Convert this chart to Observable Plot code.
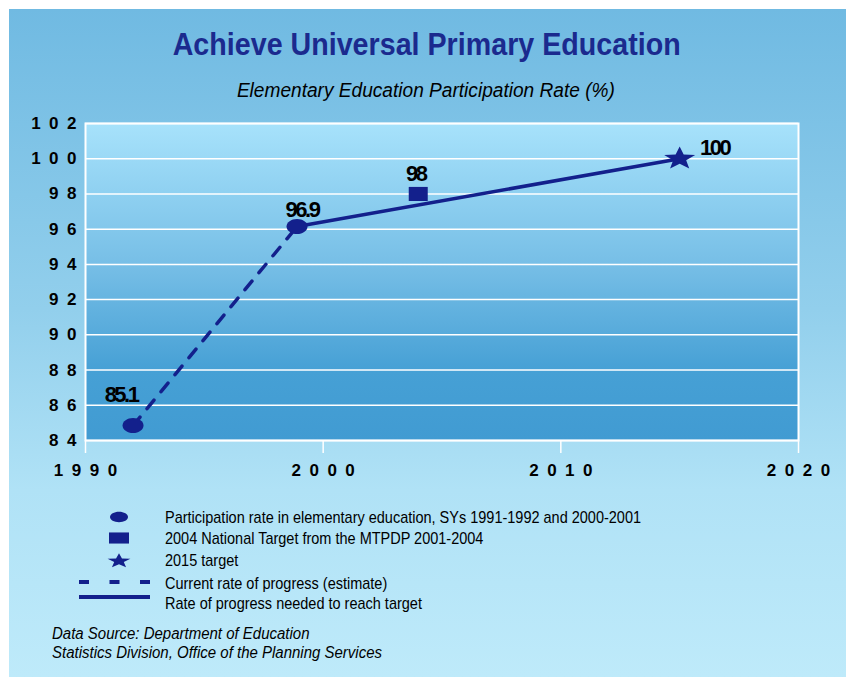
<!DOCTYPE html>
<html>
<head>
<meta charset="utf-8">
<script src="https://cdn.jsdelivr.net/npm/d3@7"></script>
<script src="https://cdn.jsdelivr.net/npm/@observablehq/plot@0.6"></script>
<style>
  html, body { margin: 0; padding: 0; background: #fff; }
  #wrap { position: relative; width: 846px; height: 677px; overflow: hidden; font-family: "Liberation Sans", Arial, sans-serif; }
  #panel { position: absolute; left: 9px; top: 9px; right: 0; bottom: 0;
    background: linear-gradient(to bottom, rgb(112,186,226) 0%, rgb(146,207,236) 45%, rgb(176,226,246) 72%, rgb(190,234,250) 100%); }
  #chart { position: absolute; left: 0; top: 0; }
  .t { position: absolute; white-space: nowrap; line-height: 1; }
  .t span { display: inline-block; }
  #title { left: 4px; width: 846px; text-align: center; top: 28px; font-size: 32px; font-weight: bold; color: #1b2a8e; }
  #subtitle { left: 3px; width: 846px; text-align: center; top: 80px; font-size: 20px; font-style: italic; color: #000; }
  .leg { left: 165px; font-size: 17px; color: #000; }
  .foot { left: 52px; font-size: 16px; font-style: italic; color: #000; }
  #legsym { position: absolute; left: 0; top: 0; }
</style>
</head>
<body>
<div id="wrap">
  <div id="panel"></div>
  <div id="chart"></div>
  <div class="t" id="title"><span></span></div>
  <div class="t" id="subtitle"><span></span></div>
  <div id="legend"></div>
  <div id="footer"></div>
</div>
<script>
// ---------------- data ----------------
const titleText = "Achieve Universal Primary Education";
const subtitleText = "Elementary Education Participation Rate (%)";
const xTicks = [1990, 2000, 2010, 2020];
const yTicks = [84, 86, 88, 90, 92, 94, 96, 98, 100, 102];

// participation rate (as plotted) and its printed labels
const rateYears = [1992, 1998.9];
const rateValues = [84.85, 96.15];
const rateLabels = ["85.1", "96.9"];

// 2004 national target
const targetYears = [2004];
const targetValues = [98];
const targetLabels = ["98"];

// 2015 target
const goalYears = [2015];
const goalValues = [100];
const goalLabels = ["100"];

const legendLabels = [
  "Participation rate in elementary education, SYs 1991-1992 and 2000-2001",
  "2004 National Target from the MTPDP 2001-2004",
  "2015 target",
  "Current rate of progress (estimate)",
  "Rate of progress needed to reach target"
];
const sourceLines = [
  "Data Source: Department of Education",
  "Statistics Division, Office of the Planning Services"
];

// ---------------- styling ----------------
const navy = "#13208c";
const labelOffsets = { r0: [-12, -24], r1: [5, -9.5], t0: [-2.4, -13.4], g0: [35, -4] };

const rateData = rateYears.map((x, i) => ({ x, y: rateValues[i], label: rateLabels[i] }));
const targetData = targetYears.map((x, i) => ({ x, y: targetValues[i], label: targetLabels[i] }));
const goalData = goalYears.map((x, i) => ({ x, y: goalValues[i], label: goalLabels[i] }));
const dashedData = rateData;
const solidData = [rateData[1], goalData[0]];

// custom symbols (squashed vertically like the original)
const K = 0.5523;
const ellipseSym = { draw(ctx, size) {
  const r = Math.sqrt(size / Math.PI), rx = r, ry = r * 0.72;
  ctx.moveTo(rx, 0);
  ctx.bezierCurveTo(rx, ry * K, rx * K, ry, 0, ry);
  ctx.bezierCurveTo(-rx * K, ry, -rx, ry * K, -rx, 0);
  ctx.bezierCurveTo(-rx, -ry * K, -rx * K, -ry, 0, -ry);
  ctx.bezierCurveTo(rx * K, -ry, rx, -ry * K, rx, 0);
  ctx.closePath();
}};
const rectSym = { draw(ctx, size) {
  const r = Math.sqrt(size / Math.PI), hw = r, hh = r * 0.74;
  ctx.moveTo(-hw, -hh); ctx.lineTo(hw, -hh); ctx.lineTo(hw, hh); ctx.lineTo(-hw, hh); ctx.closePath();
}};
const starSym = { draw(ctx, size) {
  const r = Math.sqrt(size / Math.PI), sx = r, sy = r * 0.75, inner = 0.42;
  for (let i = 0; i < 10; i++) {
    const a = -Math.PI / 2 + i * Math.PI / 5, rr = i % 2 === 0 ? 1 : inner;
    const px = Math.cos(a) * rr * sx, py = Math.sin(a) * rr * sy;
    if (i === 0) ctx.moveTo(px, py); else ctx.lineTo(px, py);
  }
  ctx.closePath();
}};

const spaced = d => String(d).split("").join("\u2002");

function labelMark(data, off) {
  return Plot.text(data, { x: "x", y: "y", text: "label", dx: off[0], dy: off[1],
    textAnchor: "middle", lineAnchor: "bottom", fontSize: 22, fontWeight: "bold", fill: "#000" });
}

const chart = Plot.plot({
  width: 846, height: 490,
  marginLeft: 85, marginRight: 48, marginTop: 123, marginBottom: 50,
  style: { background: "transparent", fontFamily: "'Liberation Sans', Arial, sans-serif", overflow: "visible" },
  x: { domain: [1990, 2020], label: null },
  y: { domain: [84, 102], label: null },
  marks: [
    Plot.frame({ fill: "url(#plotGrad)" }),
    Plot.gridY(yTicks, { stroke: "white", strokeOpacity: 1, strokeWidth: 1.5 }),
    Plot.frame({ stroke: "white", strokeWidth: 2 }),
    Plot.axisY(yTicks, { tickSize: 0, tickPadding: 9, tickFormat: spaced, fontSize: 17, fontWeight: "bold", fill: "#000" }),
    Plot.axisX(xTicks, { tickSize: 13, tickPadding: 10.5, tickFormat: spaced, fontSize: 17, fontWeight: "bold",
      fill: "#000", stroke: "white", strokeWidth: 1.5, strokeOpacity: 1 }),
    Plot.line(dashedData, { x: "x", y: "y", stroke: navy, strokeWidth: 3.5, strokeDasharray: "11,11" }),
    Plot.line(solidData, { x: "x", y: "y", stroke: navy, strokeWidth: 3.5 }),
    Plot.dot(rateData, { x: "x", y: "y", symbol: ellipseSym, r: 10.5, fill: navy, stroke: "none" }),
    Plot.dot(targetData, { x: "x", y: "y", symbol: rectSym, r: 9.5, fill: navy, stroke: "none" }),
    Plot.dot(goalData, { x: "x", y: "y", symbol: starSym, r: 16.3, fill: navy, stroke: "none" }),
    labelMark([rateData[0]], labelOffsets.r0),
    labelMark([rateData[1]], labelOffsets.r1),
    labelMark(targetData, labelOffsets.t0),
    labelMark(goalData, labelOffsets.g0)
  ]
});
document.getElementById("chart").appendChild(chart);

// gradient for the plotting area
const svg = d3.select(chart);
const grad = svg.insert("defs", ":first-child").append("linearGradient")
  .attr("id", "plotGrad").attr("x1", 0).attr("y1", 0).attr("x2", 0).attr("y2", 1);
[["0%", "rgb(167,226,251)"], ["45%", "rgb(118,190,230)"], ["78%", "rgb(70,160,213)"], ["100%", "rgb(65,155,210)"]]
  .forEach(([o, c]) => grad.append("stop").attr("offset", o).attr("stop-color", c));
svg.selectAll('g[aria-label="text"] text').style("letter-spacing", "-2.5px");

// ---------------- texts ----------------
function fit(span, target, origin) {
  const w = span.getBoundingClientRect().width;
  const s = target / w;
  span.style.transformOrigin = origin;
  span.style.transform = `scaleX(${s})`;
  return s;
}
const tSpan = document.querySelector("#title span");
tSpan.textContent = titleText;
fit(tSpan, 508, "center");
const sSpan = document.querySelector("#subtitle span");
sSpan.textContent = subtitleText;
fit(sSpan, 378, "center");

// legend
const legTops = [509, 529.6, 552.3, 574.6, 595];
const legend = document.getElementById("legend");
const legSpans = legendLabels.map((txt, i) => {
  const d = document.createElement("div");
  d.className = "t leg"; d.style.top = legTops[i] + "px";
  const s = document.createElement("span"); s.textContent = txt; d.appendChild(s);
  legend.appendChild(d); return s;
});
const legScale = legSpans[0].getBoundingClientRect().width;
const ls = 476 / legScale;
legSpans.forEach(s => { s.style.transformOrigin = "left"; s.style.transform = `scaleX(${ls})`; });

// legend symbols
const ns = "http://www.w3.org/2000/svg";
const lsvg = d3.select(legend).append("svg").attr("id", "legsym").attr("width", 846).attr("height", 677);
lsvg.append("path").attr("d", d3.symbol(ellipseSym, Math.PI * 9 * 9)()).attr("transform", "translate(119,517) scale(1,0.8)").attr("fill", navy);
lsvg.append("path").attr("d", d3.symbol(rectSym, Math.PI * 10 * 10)()).attr("transform", "translate(119,538) scale(1,0.75)").attr("fill", navy);
lsvg.append("path").attr("d", d3.symbol(starSym, Math.PI * 12 * 12)()).attr("transform", "translate(119,561) scale(1,0.85)").attr("fill", navy);
lsvg.append("line").attr("x1", 79).attr("x2", 150).attr("y1", 582).attr("y2", 582)
  .attr("stroke", navy).attr("stroke-width", 4).attr("stroke-dasharray", "10,20.5");
lsvg.append("line").attr("x1", 79).attr("x2", 150).attr("y1", 597).attr("y2", 597)
  .attr("stroke", navy).attr("stroke-width", 4);

// footer
const footTops = [625.5, 644.8];
const footer = document.getElementById("footer");
const footSpans = sourceLines.map((txt, i) => {
  const d = document.createElement("div");
  d.className = "t foot"; d.style.top = footTops[i] + "px";
  const s = document.createElement("span"); s.textContent = txt; d.appendChild(s);
  footer.appendChild(d); return s;
});
const fs = 330 / footSpans[1].getBoundingClientRect().width;
footSpans.forEach(s => { s.style.transformOrigin = "left"; s.style.transform = `scaleX(${fs})`; });
</script>
</body>
</html>
